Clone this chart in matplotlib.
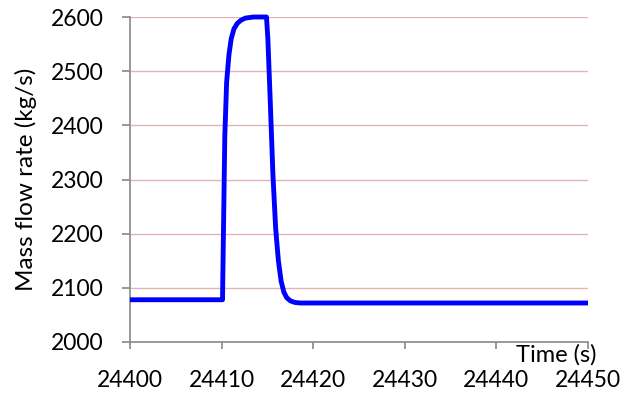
import matplotlib
matplotlib.use("Agg")
import matplotlib.pyplot as plt

# Mass flow transient sampled at key points of the curve
time_s = [24400.0, 24410.1, 24410.2, 24410.35, 24410.55, 24410.8, 24411.05, 24411.35,
          24411.7, 24412.1, 24412.6, 24413.5, 24414.9, 24415.05, 24415.3, 24415.6,
          24415.9, 24416.2, 24416.5, 24416.8, 24417.1, 24417.5, 24418.0, 24418.6, 24450.0]
flow_kgs = [2078, 2078, 2200, 2380, 2480, 2530, 2560, 2578,
            2588, 2594, 2598, 2600, 2600, 2560, 2450, 2310,
            2210, 2150, 2112, 2092, 2082, 2076, 2073, 2072, 2072]

x_ticks = [24400, 24410, 24420, 24430, 24440, 24450]
y_ticks = [2000, 2100, 2200, 2300, 2400, 2500, 2600]

plt.rcParams['font.family'] = ['Lato', 'DejaVu Sans']

fig = plt.figure(figsize=(6.39, 3.93), dpi=100)
ax = fig.add_axes([130/639, 1 - 342/393, 458/639, 325/393])

ax.set_xlim(24400, 24450)
ax.set_ylim(2000, 2600)
ax.set_yticks(y_ticks)
ax.set_xticks(x_ticks)
ax.set_yticklabels([str(v) for v in y_ticks], fontsize=16.5)
ax.set_xticklabels([str(v) for v in x_ticks], fontsize=16.5)

for y in y_ticks[1:]:
    ax.axhline(y, color='#e2b4b4', lw=1.0, zorder=1)

ax.plot(time_s, flow_kgs, color='#0000ff', lw=3.5, solid_joinstyle='round',
        solid_capstyle='butt', zorder=3, clip_on=False)

for side in ['top', 'right']:
    ax.spines[side].set_visible(False)
for side in ['left', 'bottom']:
    ax.spines[side].set_color('#888888')
    ax.spines[side].set_linewidth(1.2)

ax.tick_params(axis='y', direction='out', length=6, width=1.2, color='#888888', pad=13)
ax.tick_params(axis='x', direction='out', length=5, width=1.2, color='#888888', pad=15)

ax.set_ylabel('Mass flow rate (kg/s)', fontsize=17.5, labelpad=10)
fig.text(556/639, 1 - 355/393, 'Time (s)', fontsize=17, ha='center', va='center')

fig.savefig('out.png', dpi=100)
